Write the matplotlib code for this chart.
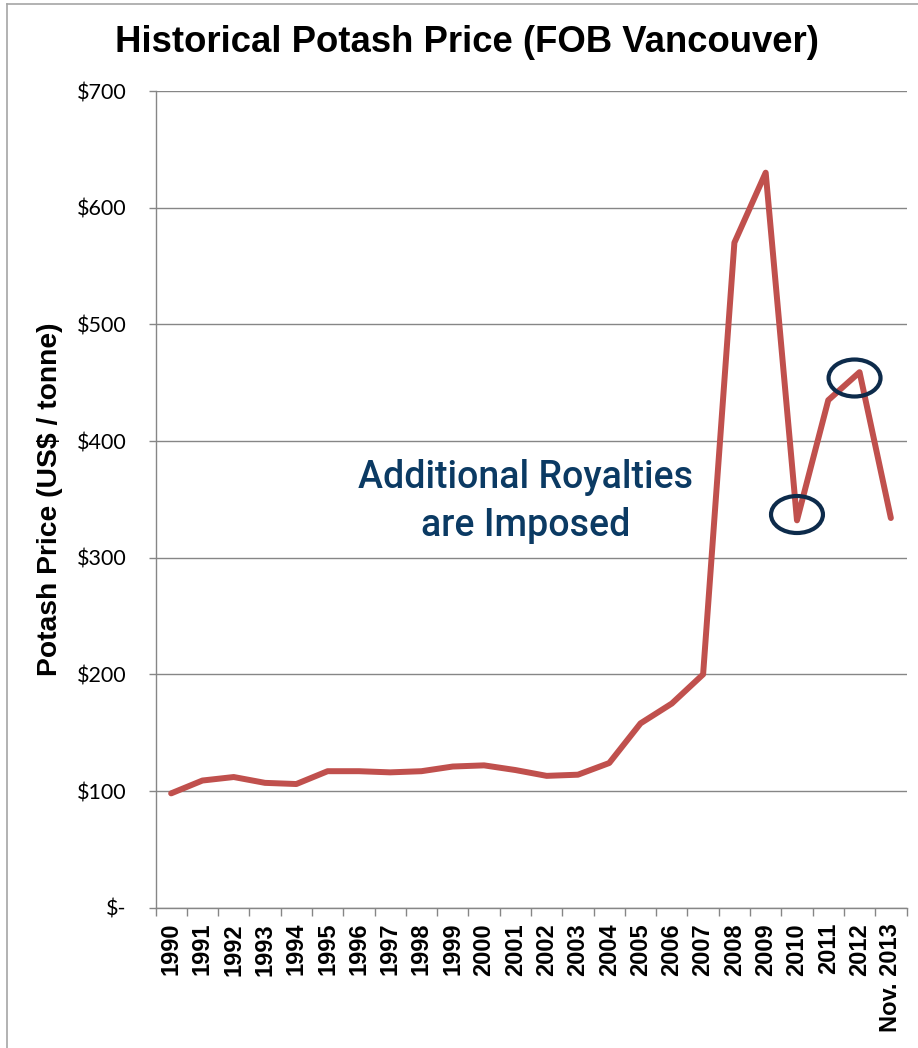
import matplotlib
matplotlib.use("Agg")
import matplotlib.pyplot as plt
from matplotlib.patches import Ellipse
from matplotlib.lines import Line2D
from matplotlib.ticker import FixedLocator, FuncFormatter

# Annual potash price, FOB Vancouver (US$ / tonne)
years = ["1990", "1991", "1992", "1993", "1994", "1995", "1996", "1997",
         "1998", "1999", "2000", "2001", "2002", "2003", "2004", "2005",
         "2006", "2007", "2008", "2009", "2010", "2011", "2012", "Nov. 2013"]
prices = [98, 109, 112, 107, 106, 117, 117, 116, 117, 121, 122, 118,
          113, 114, 124, 158, 175, 200, 570, 630, 332, 435, 459, 334]

y_ticks = [0, 100, 200, 300, 400, 500, 600, 700]
royalty_years = ["2010", "2012"]

W, H = 918, 1048
fig = plt.figure(figsize=(W / 100, H / 100), dpi=100)
ax = fig.add_axes([155.5 / W, 1 - 907.7 / H, 751 / W, (907.7 - 91) / H])

grey = "#868686"
x = list(range(len(years)))
ax.plot(x, prices, color="#C0504D", lw=4.3, solid_joinstyle="round",
        solid_capstyle="round", zorder=3)

ax.set_xlim(-0.5, len(years) - 0.5)
ax.set_ylim(0, 700)

# y axis
ax.yaxis.set_major_locator(FixedLocator(y_ticks))
ax.yaxis.set_major_formatter(FuncFormatter(lambda v, p: "$-" if v == 0 else f"${v:.0f}"))
ax.grid(axis="y", color=grey, lw=1.0)
ax.tick_params(axis="y", length=5, width=1, color=grey, pad=16,
               labelsize=15.5, labelcolor="black")
for lab in ax.get_yticklabels():
    lab.set_fontfamily("Lato")

# x axis: labels at category centres, tick marks at category boundaries
ax.set_xticks(x)
ax.set_xticklabels(years, rotation=90, fontsize=17, fontweight="bold",
                   fontfamily="Liberation Sans", va="top", ha="center")
ax.tick_params(axis="x", which="major", length=0, pad=11)
ax.set_xticks([i - 0.5 for i in range(len(years) + 1)], minor=True)
ax.tick_params(axis="x", which="minor", length=6, width=1, color=grey)

for s in ("top", "right"):
    ax.spines[s].set_visible(False)
for s in ("left", "bottom"):
    ax.spines[s].set_color(grey)
    ax.spines[s].set_linewidth(1.0)

ax.set_ylabel("Potash Price (US$ / tonne)", fontsize=20.3, fontweight="bold",
              fontfamily="Liberation Sans", labelpad=10)

# circles marking the royalty changes
for yr, cy in zip(royalty_years, [337, 454]):
    i = years.index(yr)
    cx = i if yr == "2010" else i - 0.16
    ax.add_patch(Ellipse((cx, cy), 1.66, 31.7, fill=False,
                         edgecolor="#0D2B4B", lw=3.0, zorder=4))

ax.text(11.33, 348, "Additional Royalties\nare Imposed", fontsize=27,
        fontfamily="Roboto", fontweight="medium", color="#0B3A63",
        ha="center", va="center", linespacing=1.38)

fig.text(467 / W, 1 - 42 / H, "Historical Potash Price (FOB Vancouver)",
         fontsize=26.3, fontweight="bold", fontfamily="Liberation Sans",
         ha="center", va="center")

# outer chart frame
fig.add_artist(Line2D([7 / W, 7 / W], [0, 1 - 4 / H], transform=fig.transFigure,
                      color="#A6A6A6", lw=1.2))
fig.add_artist(Line2D([7 / W, 1], [1 - 4 / H, 1 - 4 / H], transform=fig.transFigure,
                      color="#A6A6A6", lw=1.2))

fig.savefig("out.png", dpi=100)
